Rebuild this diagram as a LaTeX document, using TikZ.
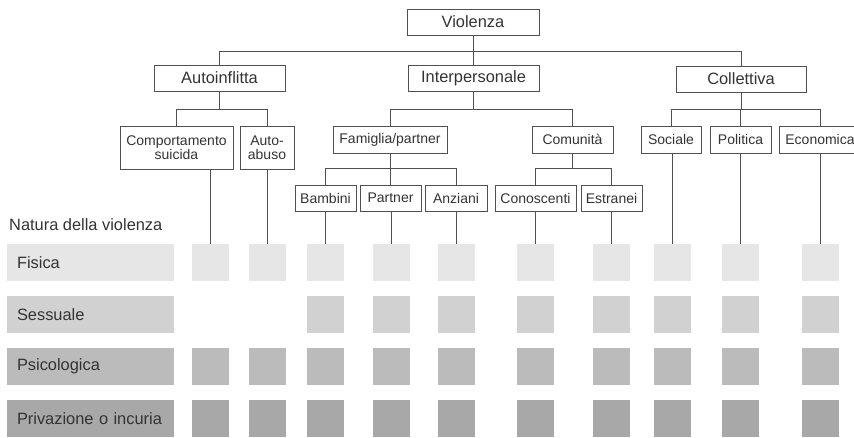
\documentclass[tikz,border=0pt]{standalone}
\usepackage{fontspec}
\setmainfont{Liberation Sans}

\definecolor{rowA}{HTML}{E6E6E6}
\definecolor{rowB}{HTML}{D1D1D1}
\definecolor{rowC}{HTML}{BBBBBB}
\definecolor{rowD}{HTML}{A8A8A8}
\definecolor{linec}{HTML}{505050}
\definecolor{textc}{HTML}{333333}

\tikzset{
  big/.style={draw=linec,line width=1pt,inner sep=0pt,minimum height=26pt,
    text=textc,font=\fontsize{16.4}{19}\selectfont},
  small/.style={draw=linec,line width=1pt,inner sep=0pt,minimum height=26pt,
    text=textc,align=center,font=\fontsize{14}{14.5}\selectfont},
  conn/.style={linec,line width=1pt},
  bar/.style={inner ysep=0pt,inner xsep=10pt,text width=147pt,align=left,
    minimum height=37pt,text=textc,font=\fontsize{16.4}{19}\selectfont},
  cell/.style={inner sep=0pt,minimum width=37pt,minimum height=37pt}
}

\begin{document}
\begin{tikzpicture}[x=1pt,y=-1pt]
\useasboundingbox (0,0) rectangle (854,437);
\clip (0,0) rectangle (854,437);

% tree
\node[big,minimum width=132pt] (violenza) at (473,22) {Violenza};
\node[big,minimum width=131pt] (autoinfl) at (219.5,78) {Autoinflitta};
\node[big,minimum width=131pt] (interp) at (473.5,78) {Interpersonale};
\node[big,minimum width=130pt] (collett) at (741,79) {Collettiva};

\node[small,minimum width=113pt,minimum height=43pt] (comport) at (176.5,147.5) {Comportamento\\suicida};
\node[small,minimum width=54pt,minimum height=43pt] (autoabuso) at (267,147.5) {Auto-\\abuso};
\node[small,minimum width=114pt,minimum height=27pt] (famiglia) at (390,139.5) {Famiglia/partner};
\node[small,minimum width=81pt,minimum height=27pt] (comunita) at (572.5,139.5) {Comunità};
\node[small,minimum width=60pt,minimum height=27pt] (sociale) at (671,139.5) {Sociale};
\node[small,minimum width=61pt,minimum height=27pt] (politica) at (740.5,139.5) {Politica};
\node[small,minimum width=82pt,minimum height=27pt] (economica) at (820,139.5) {Economica};

\node[small,minimum width=61pt] (bambini) at (325.5,198) {Bambini};
\node[small,minimum width=61pt] (partner) at (390.5,198) {Partner};
\node[small,minimum width=62pt] (anziani) at (456,198) {Anziani};
\node[small,minimum width=81pt] (conosc) at (535.5,198) {Conoscenti};
\node[small,minimum width=61pt] (estranei) at (611.5,198) {Estranei};

\coordinate (bus0) at (0,51);
\coordinate (bus1) at (0,109);
\coordinate (bus2) at (0,168);

\draw[conn] (violenza.south) -- (violenza.south|-bus0);
\draw[conn] (autoinfl.north) -- (autoinfl.north|-bus0) -- (collett.north|-bus0) -- (collett.north);
\draw[conn] (interp.north) -- (interp.north|-bus0);

\draw[conn] (autoinfl.south) -- (autoinfl.south|-bus1);
\draw[conn] (comport.north) -- (comport.north|-bus1) -- (autoabuso.north|-bus1) -- (autoabuso.north);
\draw[conn] (interp.south) -- (interp.south|-bus1);
\draw[conn] (famiglia.north) -- (famiglia.north|-bus1) -- (comunita.north|-bus1) -- (comunita.north);
\draw[conn] (collett.south) -- (collett.south|-bus1);
\draw[conn] (sociale.north) -- (sociale.north|-bus1) -- (economica.north|-bus1) -- (economica.north);
\draw[conn] (politica.north) -- (politica.north|-bus1);

\draw[conn] (famiglia.south) -- (famiglia.south|-bus2);
\draw[conn] (bambini.north) -- (bambini.north|-bus2) -- (anziani.north|-bus2) -- (anziani.north);
\draw[conn] (partner.north) -- (partner.north|-bus2);
\draw[conn] (comunita.south) -- (comunita.south|-bus2);
\draw[conn] (conosc.north) -- (conosc.north|-bus2) -- (estranei.north|-bus2) -- (estranei.north);

% natura della violenza
\node[anchor=west,inner sep=0pt,text=textc,font=\fontsize{16.4}{19}\selectfont] (natura) at (9,225) {Natura della violenza};
\node[bar,fill=rowA] (fisica) at (90.5,262.5) {Fisica};
\node[bar,fill=rowB] (sessuale) at (90.5,314.5) {Sessuale};
\node[bar,fill=rowC] (psico) at (90.5,366.5) {Psicologica};
\node[bar,fill=rowD] (privaz) at (90.5,418.5) {Privazione o incuria};

\foreach \r/\y/\col in {1/262.5/rowA,3/366.5/rowC,4/418.5/rowD}
  \foreach \c/\x in {1/210.5,2/267,3/325.5,4/391,5/456.5,6/535.5,7/611.5,8/672,9/740.5,10/820}
    \node[cell,fill=\col] (sq\c-\r) at (\x,\y) {};
\foreach \c/\x in {3/325.5,4/391,5/456.5,6/535.5,7/611.5,8/672,9/740.5,10/820}
  \node[cell,fill=rowB] (sq\c-2) at (\x,314.5) {};

\foreach \n/\c in {comport/1,autoabuso/2,bambini/3,partner/4,anziani/5,conosc/6,estranei/7,sociale/8,politica/9,economica/10}
  \draw[conn] (sq\c-1.north|-\n.south) -- (sq\c-1.north);
\end{tikzpicture}
\end{document}
